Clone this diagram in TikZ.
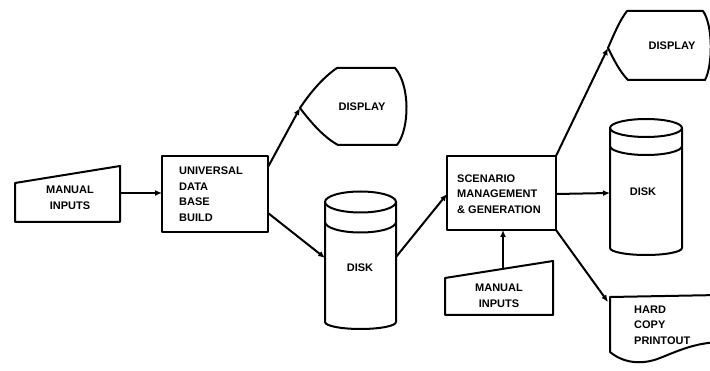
\documentclass[tikz,border=0pt]{standalone}
\usepackage{fontspec}
\setmainfont{Liberation Sans}
\usetikzlibrary{arrows.meta}
\tikzset{
  shape line/.style={line width=2pt, line join=round},
  flow/.style={line width=2pt, -{Latex[length=7pt,width=6pt]}},
  lbl/.style={font=\bfseries\fontsize{11}{15.5}\selectfont, inner sep=0pt},
  lbll/.style={lbl, align=left, anchor=west},
  lblc/.style={lbl, align=center}
}
\begin{document}
\begin{tikzpicture}[x=1pt,y=-1pt]
\useasboundingbox (0,0) rectangle (710,371);
\clip (0,0) rectangle (710,371);

% manual input (left)
\draw[shape line] (15,183) -- (120,166) -- (120,222) -- (15,222) -- cycle;
\node[lblc] (mi1) at (70,198) {MANUAL\\INPUTS};
\coordinate (mi1out) at (120,193);

% universal data base build
\draw[shape line] (162,156) rectangle (268,232);
\node[lbll] (udb) at (179,194) {UNIVERSAL\\DATA\\BASE\\BUILD};
\coordinate (udbin) at (162,193);
\coordinate (udbtop) at (268,167);
\coordinate (udbbot) at (268,213);

% display 1
\draw[shape line] (300,108) .. controls (312,90) and (325,76) .. (337,68) -- (395,68)
  .. controls (410,85) and (410,128) .. (397,145) -- (338,145)
  .. controls (325,138) and (312,124) .. cycle;
\node[lblc] (disp1) at (362,107) {DISPLAY};
\coordinate (disp1in) at (300,108);

% disk 1
\draw[shape line] (325,202) -- (325,322) arc[start angle=180,end angle=360,x radius=35.5,y radius=-7] -- (396,202)
  arc[start angle=0,end angle=-180,x radius=35.5,y radius=10.5] -- cycle;
\draw[shape line] (325,202) arc[start angle=180,end angle=360,x radius=35.5,y radius=-10.5];
\draw[shape line] (325,222) arc[start angle=180,end angle=360,x radius=35.5,y radius=-10.5];
\node[lblc] (disk1) at (360,268) {DISK};
\coordinate (disk1in) at (325,258);
\coordinate (disk1out) at (396,257);

% scenario management & generation
\draw[shape line] (447,156) rectangle (556,230);
\node[lbll] (smg) at (457,194) {SCENARIO\\MANAGEMENT\\\& GENERATION};
\coordinate (smgin) at (447,194);
\coordinate (smgtop) at (556,156);
\coordinate (smgmid) at (556,194);
\coordinate (smgbot) at (556,230);
\coordinate (smgbase) at (503,230);

% manual input (bottom)
\draw[shape line] (445,278) -- (553,261) -- (553,315) -- (445,315) -- cycle;
\node[lblc] (mi2) at (499,296) {MANUAL\\INPUTS};
\coordinate (mi2out) at (503,270);

% display 2
\draw[shape line] (608,48) .. controls (614,34) and (620,20) .. (627,11) -- (703,11)
  .. controls (713,25) and (713,65) .. (705,80) -- (628,80)
  .. controls (620,72) and (614,60) .. cycle;
\node[lblc] (disp2) at (672,46) {DISPLAY};
\coordinate (disp2in) at (608,48);

% disk 2
\draw[shape line] (610,128) -- (610,248) arc[start angle=180,end angle=360,x radius=36,y radius=-7] -- (682,128)
  arc[start angle=0,end angle=-180,x radius=36,y radius=9] -- cycle;
\draw[shape line] (610,128) arc[start angle=180,end angle=360,x radius=36,y radius=-9];
\draw[shape line] (610,146) arc[start angle=180,end angle=360,x radius=36,y radius=-9];
\node[lblc] (disk2) at (643,192) {DISK};
\coordinate (disk2in) at (610,193);

% hard copy printout
\draw[shape line] (720,295) -- (610,297) -- (610,352)
  .. controls (622,362) and (640,366) .. (660,358)
  .. controls (680,350) and (695,343) .. (720,342);
\node[lbll] (hcp) at (634,325) {HARD\\COPY\\PRINTOUT};
\coordinate (hcpin) at (608,302);

% connectors
\draw[flow] (mi1out) -- (udbin);
\draw[flow] (udbtop) -- (disp1in);
\draw[flow] (udbbot) -- (disk1in);
\draw[flow] (disk1out) -- (smgin);
\draw[flow] (mi2out) -- (smgbase);
\draw[flow] (smgtop) -- (disp2in);
\draw[flow] (smgmid) -- (disk2in);
\draw[flow] (smgbot) -- (hcpin);
\end{tikzpicture}
\end{document}
